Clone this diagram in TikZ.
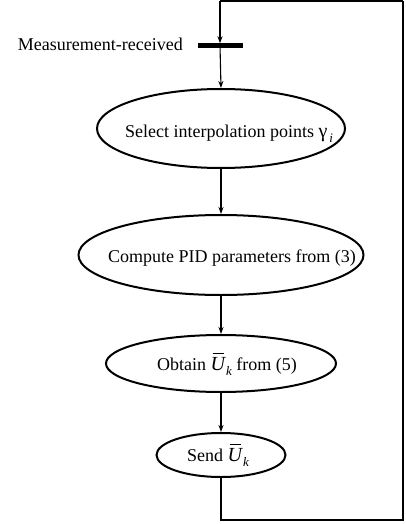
\documentclass[tikz,border=0pt]{standalone}
\usepackage{fontspec}
\setmainfont{Liberation Serif}
\usetikzlibrary{shapes.geometric,arrows.meta}
\tikzset{
  oval/.style={ellipse,draw,line width=2pt,inner sep=0pt},
  txt/.style={inner sep=0pt,font=\fontsize{18pt}{21pt}\selectfont},
  flow/.style={line width=1.1pt,-{Stealth[length=7pt,width=5pt]}},
  loopline/.style={line width=1.8pt},
}
\newcommand{\subit}[1]{\raisebox{-0.3em}{\fontsize{13pt}{13pt}\selectfont\itshape #1}}
\newcommand{\Ubar}{\rule[15.5pt]{0pt}{0pt}\makebox[0pt][l]{\hspace{2pt}\rule[16pt]{11pt}{1.1pt}}{\fontsize{20pt}{21pt}\selectfont\itshape U}\hspace{1pt}\subit{k}}
\begin{document}
\begin{tikzpicture}[x=1pt,y=-1pt]
\useasboundingbox (0,0) rectangle (405,524);
% ellipses
\node[oval,minimum width=248pt,minimum height=79pt] (e1) at (221,128.5) {};
\node[oval,minimum width=285pt,minimum height=80pt] (e2) at (221,255) {};
\node[oval,minimum width=230pt,minimum height=57pt] (e3) at (221,363.5) {};
\node[oval,minimum width=129pt,minimum height=44pt] (e4) at (221,455) {};
% texts
\node[txt,anchor=base] (t1) at (229,137) {Select interpolation points {\fontsize{20pt}{21pt}\selectfont γ}\hspace{2pt}\subit{i}};
\node[txt,anchor=base] (t2) at (232,262) {Compute PID parameters from (3)};
\node[txt,anchor=base] (t3) at (227,370) {Obtain \Ubar\ from (5)};
\node[txt,anchor=base] (t4) at (218,461) {Send \Ubar};
% bar
\node[fill=black,minimum width=45pt,minimum height=5pt,inner sep=0pt] (bar) at (220,46) {};
\node[txt,anchor=base east] (lab) at (183,51) {Measurement-received};
% loop coordinates
\coordinate (tl) at (220,1);
\coordinate (tr) at (403,1);
\coordinate (br) at (403,520);
\coordinate (bl) at (221,520);
% loop
\draw[loopline] (e4.south) -- (bl) -- (br) -- (tr);
\draw[line width=1.2pt] (tr) -- (tl);
\draw[flow] (tl) -- (bar.north);
\draw[flow] (bar.center) -- (e1.north);
% arrows
\draw[flow] (e1.south) -- (e2.north);
\draw[flow] (e2.south) -- (e3.north);
\draw[flow] (e3.south) -- (e4.north);
\end{tikzpicture}
\end{document}
